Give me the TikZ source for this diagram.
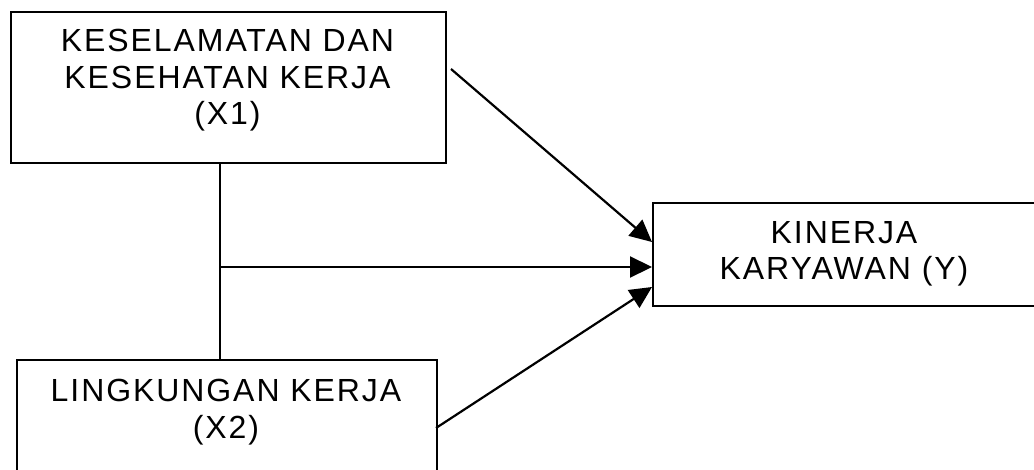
\documentclass[tikz,border=0pt]{standalone}
\usepackage{fontspec}
\setmainfont{Liberation Sans}[LetterSpace=6]
\usetikzlibrary{arrows.meta}
\begin{document}
\begin{tikzpicture}[x=1pt,y=-1pt,
  box/.style={draw=black,line width=2.2pt,inner sep=0pt,anchor=north west},
  lbl/.style={align=center,inner sep=0pt,anchor=north,
    font=\fontsize{32}{36.5}\selectfont},
  link/.style={line width=2.2pt,draw=black},
  arr/.style={link,-{Triangle[length=22pt,width=21pt]}}]
  \useasboundingbox (0,0) rectangle (1034,469);
  \clip (0,0) rectangle (1034,469);
  % boxes
  \node[box,minimum width=435pt,minimum height=151pt] (X1) at (10,11) {};
  \node[box,minimum width=384pt,minimum height=103pt] (Y) at (652,202) {};
  \node[box,minimum width=420pt,minimum height=125pt] (X2) at (16,359) {};
  % labels
  \node[lbl] (tX1) at (227.5,29) {KESELAMATAN DAN\\KESEHATAN KERJA\\(X1)};
  \node[lbl] (tY) at (844,221) {KINERJA\\KARYAWAN (Y)};
  \node[lbl] (tX2) at (226,379) {LINGKUNGAN KERJA\\(X2)};
  % connector end points
  \coordinate (vTop) at (220,162);
  \coordinate (vBot) at (220,359);
  \coordinate (vMid) at (220,267);
  \coordinate (s1) at (451,69);
  \coordinate (e1) at (652,242);
  \coordinate (e2) at (652,267);
  \coordinate (s3) at (436,428);
  \coordinate (e3) at (652,287);
  % connectors
  \draw[link] (vTop) -- (vBot);
  \draw[arr] (s1) -- (e1);
  \draw[arr] (vMid) -- (e2);
  \draw[arr] (s3) -- (e3);
\end{tikzpicture}
\end{document}
